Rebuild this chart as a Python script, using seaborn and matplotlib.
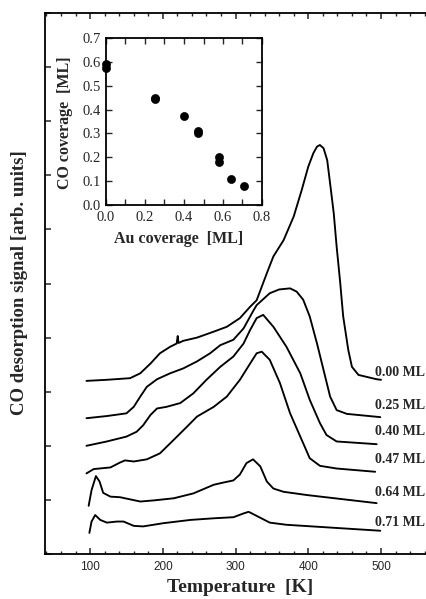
import numpy as np
import pandas as pd
import seaborn as sns
import matplotlib
matplotlib.use("Agg")
import matplotlib.pyplot as plt
from matplotlib.ticker import MultipleLocator, NullFormatter, FormatStrFormatter

# ---------------- data ----------------
coverages = ["0.00 ML", "0.25 ML", "0.40 ML", "0.47 ML", "0.64 ML", "0.71 ML"]

t_000 = [95, 123, 155, 169, 183, 196, 210, 219, 220.5, 221.5, 228, 247, 270, 288, 306, 320, 329,
         343, 352, 366, 380, 391, 400, 407, 412, 416, 421, 426, 430, 435, 439, 444, 446, 448, 455, 460, 469, 494, 500]
s_000 = [3.20, 3.22, 3.25, 3.34, 3.52, 3.71, 3.83, 3.89, 4.03, 3.90, 3.94, 4.00, 4.11, 4.20, 4.36, 4.57, 4.69,
         5.19, 5.50, 5.80, 6.24, 6.73, 7.16, 7.41, 7.53, 7.56, 7.50, 7.28, 6.85, 6.30, 5.68, 5.00, 4.69, 4.39, 3.77, 3.46, 3.31, 3.23, 3.22]

t_025 = [95, 123, 150, 160, 169, 178, 192, 210, 228, 247, 265, 279, 288, 297, 311, 325, 329, 347, 360, 375, 384,
         393, 402, 412, 421, 430, 439, 453, 499]
s_025 = [2.51, 2.55, 2.60, 2.72, 2.91, 3.09, 3.23, 3.34, 3.43, 3.56, 3.71, 3.86, 3.91, 3.96, 4.17, 4.51, 4.60, 4.82, 4.89, 4.91, 4.85,
         4.70, 4.39, 3.89, 3.40, 2.91, 2.66, 2.59, 2.53]

t_040 = [95, 123, 150, 164, 173, 183, 192, 205, 224, 242, 260, 279, 297, 311, 320, 329, 338, 352, 370, 389, 402,
         416, 425, 439, 494]
s_040 = [2.00, 2.08, 2.17, 2.26, 2.38, 2.57, 2.69, 2.72, 2.79, 2.97, 3.22, 3.46, 3.65, 3.89, 4.14, 4.36, 4.42, 4.20, 3.83, 3.34, 2.85,
         2.42, 2.20, 2.08, 2.03]

t_047 = [95, 105, 128, 141, 148, 160, 178, 196, 215, 233, 247, 270, 288, 306, 320, 329, 336, 347, 361, 375, 389,
         402, 416, 439, 492]
s_047 = [1.49, 1.57, 1.60, 1.69, 1.73, 1.71, 1.75, 1.86, 2.11, 2.35, 2.54, 2.72, 2.91, 3.22, 3.52, 3.71, 3.74, 3.59, 3.16, 2.60, 2.17,
         1.77, 1.63, 1.58, 1.52]

t_064 = [98, 102, 108, 113, 118, 128, 141, 155, 169, 187, 215, 242, 270, 283, 297, 306, 315, 324, 334, 343, 352,
         366, 398, 494]
s_064 = [0.89, 1.18, 1.44, 1.34, 1.13, 1.06, 1.05, 1.01, 0.97, 0.99, 1.03, 1.12, 1.28, 1.32, 1.36, 1.47, 1.68, 1.75, 1.62, 1.34, 1.21,
         1.15, 1.09, 0.94]

t_071 = [99, 102, 107, 114, 123, 137, 146, 160, 173, 201, 238, 270, 297, 311, 318, 334, 347, 370, 499]
s_071 = [0.39, 0.60, 0.72, 0.63, 0.58, 0.60, 0.60, 0.52, 0.51, 0.57, 0.63, 0.66, 0.68, 0.75, 0.78, 0.67, 0.58, 0.54, 0.43]

label_y = [3.36, 2.75, 2.26, 1.74, 1.13, 0.59]

# inset: CO coverage vs Au coverage
au_cov = [0.00, 0.00, 0.25, 0.25, 0.40, 0.47, 0.47, 0.58, 0.58, 0.64, 0.71]
co_cov = [0.59, 0.575, 0.45, 0.445, 0.373, 0.31, 0.30, 0.20, 0.182, 0.109, 0.081]

x_ticks = [100, 200, 300, 400, 500]

# ---------------- styling ----------------
sns.set_theme(style="ticks")
plt.rcParams["font.family"] = ["Liberation Serif", "DejaVu Serif"]
plt.rcParams["xtick.direction"] = "in"
plt.rcParams["ytick.direction"] = "in"

fig = plt.figure(figsize=(4.27, 5.99), dpi=100)
W, H = 427, 599

def fig_rect(x0, y0, x1, y1):
    return [x0 / W, 1 - y1 / H, (x1 - x0) / W, (y1 - y0) / H]

ax = fig.add_axes(fig_rect(45, 13, 453.75, 554))

temps = [t_000, t_025, t_040, t_047, t_064, t_071]
sigs = [s_000, s_025, s_040, s_047, s_064, s_071]
frames = []
for name, t, s in zip(coverages, temps, sigs):
    frames.append(pd.DataFrame({"T": t, "S": s, "cov": name}))
df = pd.concat(frames, ignore_index=True)

sns.lineplot(data=df, x="T", y="S", units="cov", estimator=None, sort=False,
             color="black", lw=1.35, ax=ax, legend=False)

for name, yl in zip(coverages, label_y):
    ax.text(492, yl, name, fontsize=10, fontweight="bold", va="center", ha="left",
            family=["Liberation Serif", "DejaVu Serif"])

ax.set_xlim(38, 600)
ax.set_ylim(0, 10)
ax.set_xticks(x_ticks)
ax.set_xticklabels([str(v) for v in x_ticks], family=["Liberation Sans", "DejaVu Sans"], fontsize=8.5)
ax.xaxis.set_minor_locator(MultipleLocator(20))
ax.yaxis.set_major_locator(MultipleLocator(1))
ax.yaxis.set_major_formatter(NullFormatter())
ax.tick_params(axis="x", which="major", length=4.5, width=1.1, top=True, pad=5)
ax.tick_params(axis="x", which="minor", length=2.5, width=1.0, top=True)
ax.tick_params(axis="y", which="major", length=4.5, width=1.1, left=True, right=False)
for sp in ax.spines.values():
    sp.set_linewidth(1.3)
    sp.set_color("black")
ax.spines["right"].set_visible(False)

ax.set_xlabel("Temperature  [K]", fontsize=14, fontweight="bold")
ax.set_ylabel("CO desorption signal [arb. units]", fontsize=13.5, fontweight="bold")
ax.xaxis.set_label_coords((240 - 45) / (453.75 - 45), -(579 - 554) / 541)
ax.yaxis.set_label_coords(-(45 - 28) / (453.75 - 45), (554 - 282.5) / 541)

# ---------------- inset ----------------
axi = fig.add_axes(fig_rect(106, 38, 262, 205))
sns.scatterplot(x=au_cov, y=co_cov, color="black", s=34, edgecolor="black", ax=axi,
                legend=False, clip_on=False, zorder=5)
axi.set_xlim(0, 0.8)
axi.set_ylim(0, 0.7)
axi.xaxis.set_major_locator(MultipleLocator(0.2))
axi.xaxis.set_minor_locator(MultipleLocator(0.1))
axi.yaxis.set_major_locator(MultipleLocator(0.1))
axi.xaxis.set_major_formatter(FormatStrFormatter("%.1f"))
axi.yaxis.set_major_formatter(FormatStrFormatter("%.1f"))
axi.tick_params(which="both", top=True, right=True, labelsize=10.5, width=1.0, pad=4)
axi.tick_params(which="major", length=4)
axi.tick_params(which="minor", length=4)
for sp in axi.spines.values():
    sp.set_linewidth(1.3)
    sp.set_color("black")
axi.set_xlabel("Au coverage  [ML]", fontsize=11.5, fontweight="bold")
axi.set_ylabel("CO coverage  [ML]", fontsize=11.5, fontweight="bold")
axi.xaxis.set_label_coords((179 - 106) / 156, -(231 - 205) / 167)
axi.yaxis.set_label_coords(-(106 - 73) / 156, (205 - 123) / 167)

fig.savefig("out.png", dpi=100)
